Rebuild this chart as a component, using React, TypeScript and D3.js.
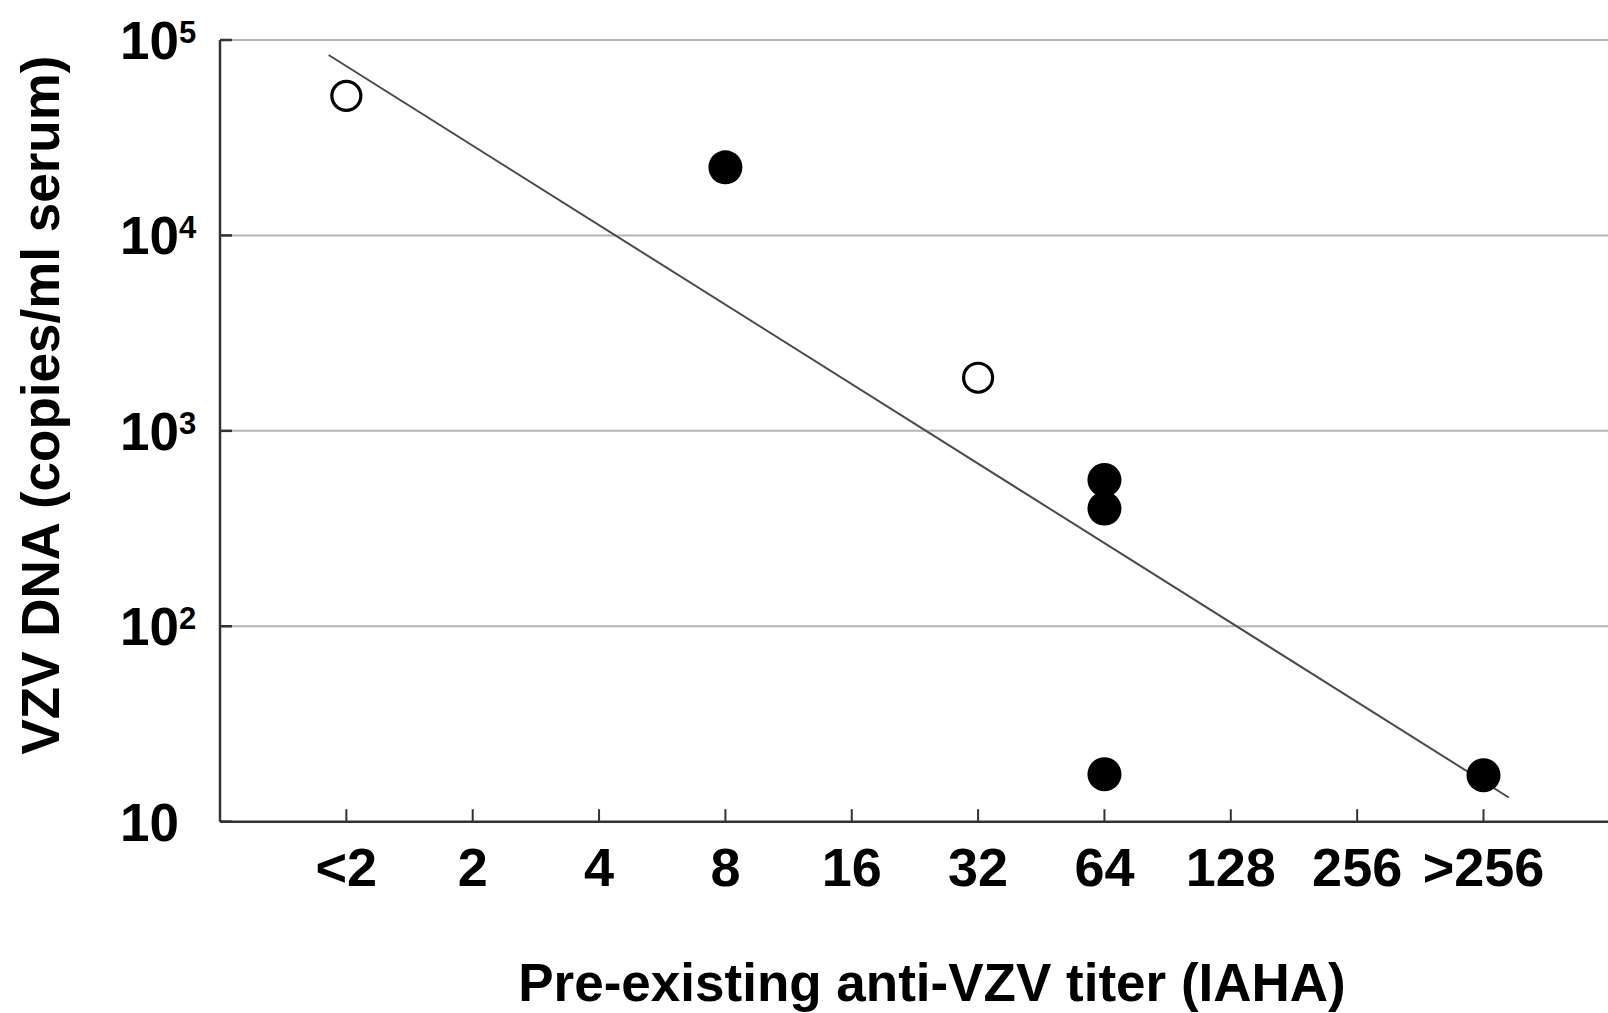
import * as d3 from 'd3';

// titer categories on the x axis (position 0 is the y axis itself)
const titerLabels = ['<2', '2', '4', '8', '16', '32', '64', '128', '256', '>256'];
const yTickValues = [10, 100, 1000, 10000, 100000];
const yTickExp = ['', '2', '3', '4', '5'];

// measured patients
const pointTiter = ['<2', '8', '32', '64', '64', '64', '>256'];
const pointCopies = [51800, 22300, 1870, 560, 400, 17.5, 17.3];
const pointOpen = [true, false, true, false, false, false, false];

// regression line ends (category position, copies)
const fitPos = [0.86, 10.2];
const fitCopies = [83800, 13.3];

const W = 1608;
const H = 1013;
const font = '"Liberation Sans", Arial, sans-serif';

export default function App() {
  const left = 220;
  const top = 40;
  const bottom = 821.7;
  const step = 126.35;

  const x = d3.scaleLinear().domain([0, titerLabels.length + 1]).range([left, left + step * (titerLabels.length + 1)]);
  const y = d3.scaleLog().domain([10, 100000]).range([bottom, top]);
  const xPos = (label) => x(titerLabels.indexOf(label) + 1);

  const fitLine = d3.line()
    .x((d) => x(d[0]))
    .y((d) => y(d[1]));
  const fitData = fitPos.map((p, i) => [p, fitCopies[i]]);

  return (
    <svg
      width={W}
      height={H}
      style={{ position: 'absolute', left: 0, top: 0, display: 'block', background: '#fff' }}
      fontFamily={font}
      fontWeight="bold"
    >
      {/* gridlines */}
      {yTickValues.slice(1).map((v) => (
        <line key={'g' + v} x1={left} x2={W} y1={y(v)} y2={y(v)} stroke="#b4b4b4" strokeWidth={2} />
      ))}

      {/* fit */}
      <path d={fitLine(fitData)} fill="none" stroke="#4a4a4a" strokeWidth={2} />

      {/* points */}
      {pointTiter.map((t, i) =>
        pointOpen[i] ? (
          <circle key={i} cx={xPos(t)} cy={y(pointCopies[i])} r={14.5} fill="#fff" stroke="#000" strokeWidth={3.2} />
        ) : (
          <circle key={i} cx={xPos(t)} cy={y(pointCopies[i])} r={17} fill="#000" />
        )
      )}

      {/* axes */}
      <line x1={left} x2={left} y1={top} y2={bottom} stroke="#333" strokeWidth={2.5} />
      <line x1={left} x2={W} y1={bottom} y2={bottom} stroke="#333" strokeWidth={2.5} />
      {yTickValues.map((v) => (
        <line key={'yt' + v} x1={left} x2={left + 12} y1={y(v)} y2={y(v)} stroke="#333" strokeWidth={2.5} />
      ))}
      {titerLabels.map((l) => (
        <line key={'xt' + l} x1={xPos(l)} x2={xPos(l)} y1={bottom} y2={bottom - 12.5} stroke="#333" strokeWidth={2} />
      ))}

      {/* y tick labels */}
      {yTickValues.map((v, i) => (
        <text key={'yl' + v} x={120} y={y(v) + 19} fontSize={53} fill="#000">
          10
          {yTickExp[i] && (
            <tspan fontSize={31} dy={-16}>
              {yTickExp[i]}
            </tspan>
          )}
        </text>
      ))}

      {/* x tick labels */}
      {titerLabels.map((l) => (
        <text key={'xl' + l} x={xPos(l)} y={886} fontSize={54} textAnchor="middle" fill="#000">
          {l}
        </text>
      ))}

      {/* titles */}
      <text x={932} y={1001} fontSize={53} textAnchor="middle" fill="#000">
        Pre-existing anti-VZV titer (IAHA)
      </text>
      <text transform="translate(59,405) rotate(-90)" fontSize={53} textAnchor="middle" fill="#000">
        VZV DNA (copies/ml serum)
      </text>
    </svg>
  );
}
